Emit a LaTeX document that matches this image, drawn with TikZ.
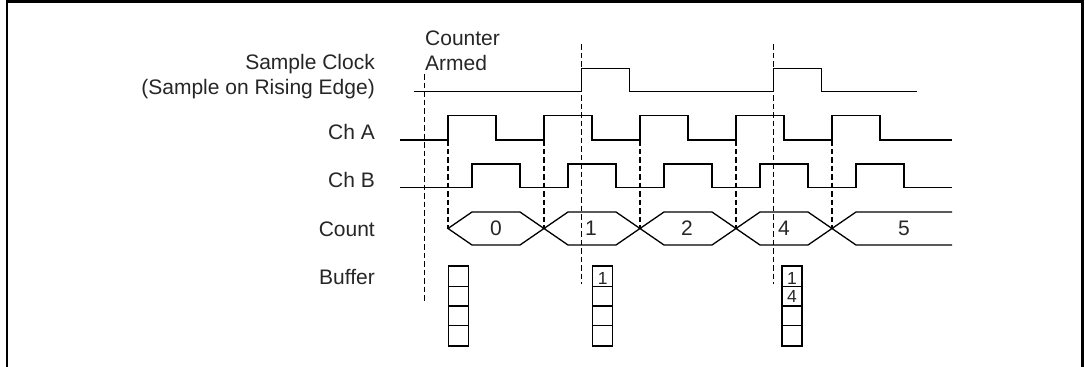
\documentclass[tikz,border=0pt]{standalone}
\usepackage{fontspec}
\setmainfont{Liberation Sans}
\begin{document}
\begin{tikzpicture}[x=1pt,y=-1pt,
  sig/.style={line width=1.3pt, line join=miter},
  dsh/.style={line width=1.1pt, dash pattern=on 5.5pt off 3pt},
  lbl/.style={font=\fontsize{21}{25}\selectfont, inner sep=0pt, text=black!85},
  bufnum/.style={font=\fontsize{17.5}{20}\selectfont, inner sep=0pt, text=black!85, anchor=base}]
\useasboundingbox (0,0) rectangle (1085,367);
% frame
\draw[line width=2pt] (7,368) -- (7,1.3);
\draw[line width=2.7pt] (6,1.3) -- (1083.8,1.3);
\draw[line width=2.5pt] (1082.5,0) -- (1082.5,368);
% labels
\node[lbl, anchor=base east] (lsc1) at (375,69.5) {Sample Clock};
\node[lbl, anchor=base east] (lsc2) at (375,94) {(Sample on Rising Edge)};
\node[lbl, anchor=base east] (lcha) at (375,139) {Ch A};
\node[lbl, anchor=base east] (lchb) at (375,187) {Ch B};
\node[lbl, anchor=base east] (lcnt) at (375,236) {Count};
\node[lbl, anchor=base east] (lbuf) at (375,284) {Buffer};
\node[lbl, anchor=base west] (arm1) at (425,45) {Counter};
\node[lbl, anchor=base west] (arm2) at (425,70) {Armed};
% dashed markers
\draw[dsh] (424.3,74) -- (424.3,303);
\foreach \x in {448,544,640,736,832} \draw[dsh] (\x,140) -- (\x,228.5);
\foreach \x in {581.3,773.3} \draw[dsh] (\x,44) -- (\x,284);
% sample clock
\draw[sig] (413.5,91.7) -- (581.3,91.7) -- (581.3,68.3) -- (629.7,68.3) -- (629.7,91.7)
  -- (773.3,91.7) -- (773.3,68.3) -- (821.7,68.3) -- (821.7,91.7) -- (917.3,91.7);
% Ch A
\draw[sig] (400,140) foreach \r in {448,544,640,736,832}{ -- (\r,140) -- (\r,115.7) -- (\r+48,115.7) -- (\r+48,140)} -- (952,140);
% Ch B
\draw[sig] (400,187.7) foreach \r in {472,568,664,760,856}{ -- (\r,187.7) -- (\r,164) -- (\r+48,164) -- (\r+48,187.7)} -- (952,187.7);
% Count
\foreach \a/\b in {448/544,544/640,640/736,736/832}
  \draw[sig] (\a,228.5) -- (\a+24,212) -- (\b-24,212) -- (\b,228.5) -- (\b-24,245) -- (\a+24,245) -- cycle;
\draw[sig] (952,212) -- (856,212) -- (832,228.5) -- (856,245) -- (952,245);
\node[lbl, anchor=base] (c0) at (496,235.7) {0};
\node[lbl, anchor=base] (c1) at (591,235.7) {1};
\node[lbl, anchor=base] (c2) at (687,235.7) {2};
\node[lbl, anchor=base] (c4) at (784,235.7) {4};
\node[lbl, anchor=base] (c5) at (904,235.7) {5};
% Buffers
\foreach \x in {448.3,592.7,782} {
  \draw[sig] (\x,266) rectangle (\x+20,346);
  \foreach \y in {286.5,306,325.5} \draw[sig] (\x,\y) -- (\x+20,\y);
}
\node[bufnum] (b21) at (602.7,284) {1};
\node[bufnum] (b31) at (792,284) {1};
\node[bufnum] (b32) at (792,302.5) {4};
\end{tikzpicture}
\end{document}
